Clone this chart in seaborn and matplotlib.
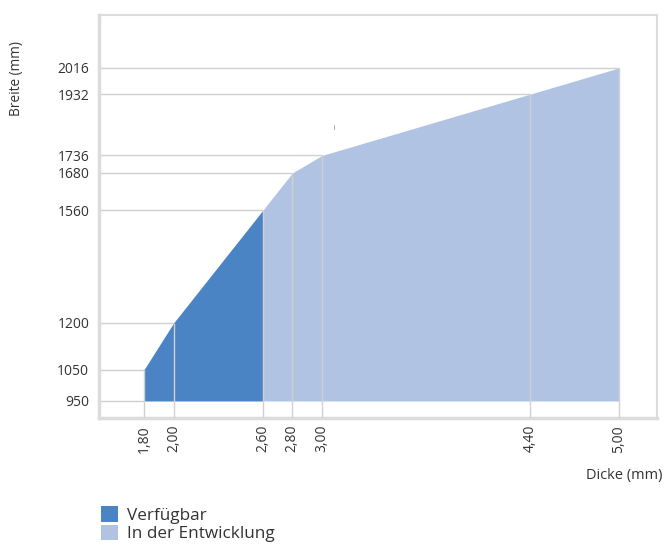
import matplotlib
matplotlib.use("Agg")
import matplotlib.pyplot as plt
import seaborn as sns
import pandas as pd
from matplotlib.patches import Patch

sns.set_style("white")
plt.rcParams['font.family'] = ['Open Sans', 'DejaVu Sans']

# Data
avail_x = [1.80, 2.00, 2.60]
avail_y = [1050, 1200, 1560]
dev_x = [2.60, 2.80, 3.00, 4.40, 5.00]
dev_y = [1560, 1680, 1736, 1932, 2016]
x_ticks = [1.80, 2.00, 2.60, 2.80, 3.00, 4.40, 5.00]
y_ticks = [950, 1050, 1200, 1560, 1680, 1736, 1932, 2016]
base = 950
series_names = ["Verfügbar", "In der Entwicklung"]
colors = ["#4b84c4", "#b1c3e2"]

df = pd.DataFrame({
    "x": avail_x + dev_x,
    "y": avail_y + dev_y,
    "s": [series_names[0]] * len(avail_x) + [series_names[1]] * len(dev_x),
})

fig = plt.figure(figsize=(6.66, 5.51), dpi=100)
ax = fig.add_axes([0.1486, 0.2414, 0.8379, 0.7314])
xmin, xmax = 1.497, 5.257
ymin, ymax = 895.6, 2185.6
ax.set_xlim(xmin, xmax)
ax.set_ylim(ymin, ymax)

grid_c = "#d0d0d0"
# horizontal guide lines from left axis to data point
all_x = [avail_x[0]] + avail_x + dev_x[1:]
all_y = [base] + avail_y + dev_y[1:]
for xv, yv in zip(all_x, all_y):
    ax.hlines(yv, xmin, xv, color=grid_c, lw=1.0, zorder=1)

ax.fill_between(avail_x, base, avail_y, color=colors[0], lw=0, zorder=2)
ax.fill_between(dev_x, base, dev_y, color=colors[1], lw=0, zorder=2)
sns.lineplot(data=df, x="x", y="y", hue="s", palette=colors, lw=0, legend=False, ax=ax, zorder=2)

# vertical guide lines from bottom to data point
for xv, yv in zip(x_ticks, [avail_y[0], avail_y[1], avail_y[2]] + dev_y[1:]):
    ax.vlines(xv, ymin, yv, color=grid_c, lw=1.0, zorder=3)

# stray mark
ax.text(3.08, 1827, "|", fontsize=4.5, color="#222222", ha="center", va="center")

ax.set_xticks(x_ticks)
ax.set_xticklabels([f"{v:.2f}".replace(".", ",") for v in x_ticks], rotation=90,
                   fontsize=10, color="#333333")
ax.set_yticks(y_ticks)
ax.set_yticklabels([str(v) for v in y_ticks], fontsize=10, color="#333333")
ax.tick_params(axis="x", length=0, pad=5)
ax.tick_params(axis="y", length=0, pad=7)

for sp in ax.spines.values():
    sp.set_color("#dcdcdc")
    sp.set_linewidth(1.5)
ax.spines["left"].set_linewidth(2.5)
ax.spines["bottom"].set_linewidth(2.5)

ax.set_xlabel("")
ax.set_ylabel("")
fig.text(17 / 666, 1 - 79 / 551, "Breite (mm)", rotation=90, ha="center", va="center",
         fontsize=9.8, color="#333333")
fig.text(624 / 666, 1 - 476 / 551, "Dicke (mm)", ha="center", va="center",
         fontsize=10.5, color="#333333")

handles = [Patch(facecolor=c, edgecolor="none") for c in colors]
fig.legend(handles, series_names, loc="lower left", bbox_to_anchor=(86 / 666, -0.012),
           frameon=False, fontsize=12.3, handlelength=1.0, handleheight=1.0,
           handletextpad=0.5, labelspacing=0.05, labelcolor="#333333")

fig.savefig("out.png", dpi=100)
